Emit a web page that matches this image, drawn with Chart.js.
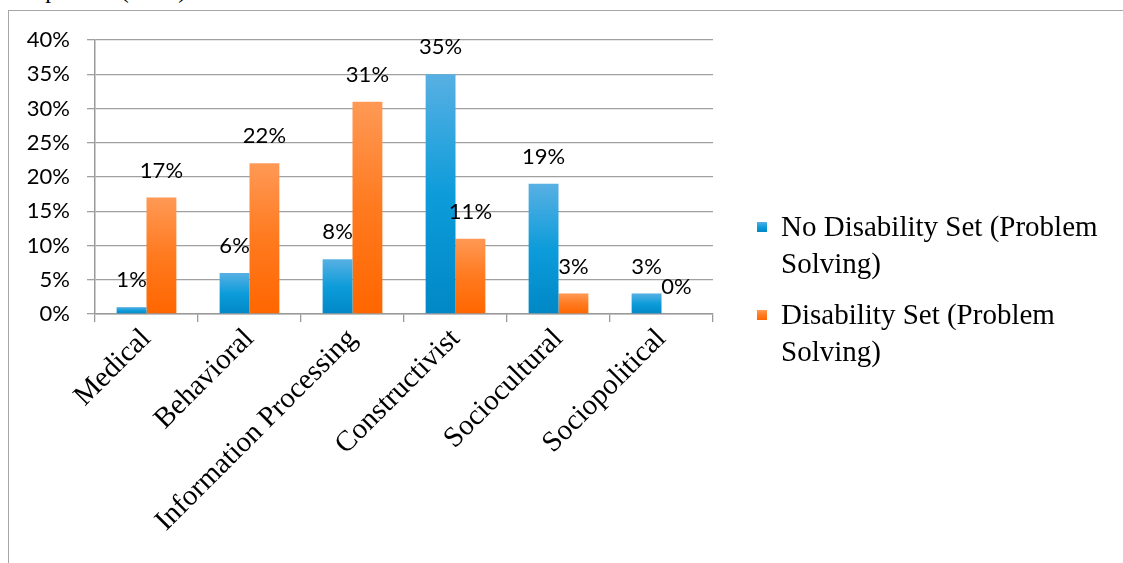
<!DOCTYPE html>
<html lang="en">
<head>
    <meta charset="UTF-8">
    <title>Perspective chart</title>
    <script src="https://cdn.jsdelivr.net/npm/chart.js"></script>
    <style>
        html, body {
            margin: 0;
            padding: 0;
            width: 1123px;
            height: 563px;
            overflow: hidden;
            background: #fff;
        }
        .caption {
            position: absolute;
            left: 4px;
            top: -23px;
            font-family: 'Liberation Serif', serif;
            font-size: 24px;
            color: #000;
            white-space: nowrap;
        }
        .frame {
            position: absolute;
            left: 8px;
            top: 10px;
            width: 1200px;
            height: 600px;
            border: 1.5px solid #a6a6a6;
        }
        #chart {
            position: absolute;
            left: 0;
            top: 0;
        }
        #legend {
            position: absolute;
            left: 757px;
            top: 208px;
            width: 360px;
            font-family: 'Liberation Serif', serif;
            font-size: 29px;
            line-height: 37px;
            color: #000;
        }
        .item {
            position: relative;
            padding-left: 24px;
            margin-bottom: 14px;
        }
        .swatch {
            position: absolute;
            left: 0;
            top: 14px;
            width: 10px;
            height: 10px;
        }
    </style>
</head>
<body>
    <div class="caption">Perspective (n=36).</div>
    <div class="frame"></div>
    <canvas id="chart" width="1123" height="563"></canvas>
    <div id="legend"></div>

    <script>
        const categories = ["Medical", "Behavioral", "Information Processing", "Constructivist", "Sociocultural", "Sociopolitical"];
        const seriesNames = ["No Disability Set (Problem Solving)", "Disability Set (Problem Solving)"];
        const noDisability = [0.01, 0.06, 0.08, 0.35, 0.19, 0.03];
        const disability = [0.17, 0.22, 0.31, 0.11, 0.03, 0.00];
        const yTicks = [0, 0.05, 0.10, 0.15, 0.20, 0.25, 0.30, 0.35, 0.40];

        // top / middle / bottom colours of each series' bar gradient
        const blueStops = ["#58b0e3", "#0d9cda", "#0087c6"];
        const orangeStops = ["#ff9955", "#ff7a1f", "#ff6600"];

        const numFont = "Lato, 'Open Sans', sans-serif";
        const serifFont = "'Liberation Serif', serif";

        function pct(v) {
            return Math.round(v * 100) + '%';
        }

        function barGradient(stops) {
            return function (ctx) {
                const chart = ctx.chart;
                if (!chart.chartArea || ctx.dataIndex === undefined) return stops[1];
                const y = chart.scales.y;
                const value = ctx.dataset.data[ctx.dataIndex];
                const top = y.getPixelForValue(value);
                const bottom = y.getPixelForValue(0);
                if (bottom - top < 1) return stops[1];
                const g = chart.ctx.createLinearGradient(0, top, 0, bottom);
                g.addColorStop(0, stops[0]);
                g.addColorStop(0.5, stops[1]);
                g.addColorStop(1, stops[2]);
                return g;
            };
        }

        // value labels sit a fixed distance above each bar, like the original
        const valueLabels = {
            id: 'valueLabels',
            afterDatasetsDraw(chart) {
                const c = chart.ctx;
                c.save();
                c.font = `22px ${numFont}`;
                c.fillStyle = '#000';
                c.textAlign = 'center';
                c.textBaseline = 'middle';
                chart.data.datasets.forEach((ds, i) => {
                    chart.getDatasetMeta(i).data.forEach((bar, j) => {
                        c.fillText(pct(ds.data[j]), bar.x, bar.y - 27);
                    });
                });
                c.restore();
            }
        };

        const chart = new Chart(document.getElementById('chart'), {
            type: 'bar',
            data: {
                labels: categories,
                datasets: [
                    { label: seriesNames[0], data: noDisability, backgroundColor: barGradient(blueStops) },
                    { label: seriesNames[1], data: disability, backgroundColor: barGradient(orangeStops) }
                ]
            },
            options: {
                responsive: false,
                animation: false,
                categoryPercentage: 0.58,
                barPercentage: 1,
                layout: { padding: { top: 40, right: 410, left: 0, bottom: 0 } },
                plugins: {
                    legend: { display: false },
                    tooltip: { enabled: false }
                },
                scales: {
                    x: {
                        offset: true,
                        grid: { drawOnChartArea: false, drawTicks: true, tickLength: 8, color: '#9a9a9a', lineWidth: 1.3 },
                        border: { color: '#9a9a9a', width: 1.5 },
                        ticks: {
                            color: '#000',
                            font: { family: serifFont, size: 29 },
                            minRotation: 45,
                            maxRotation: 45,
                            padding: 0
                        },
                        afterFit(scale) { scale.height = 249; }
                    },
                    y: {
                        min: 0,
                        max: 0.4,
                        afterBuildTicks(scale) { scale.ticks = yTicks.map(v => ({ value: v })); },
                        grid: { color: '#a0a0a0', lineWidth: 1.3, tickLength: 8 },
                        border: { color: '#9a9a9a', width: 1.5 },
                        ticks: {
                            color: '#000',
                            font: { family: numFont, size: 22 },
                            padding: 17,
                            callback: v => pct(v)
                        },
                        afterFit(scale) { scale.width = 95; }
                    }
                }
            },
            plugins: [valueLabels]
        });

        // legend as plain text beside the plot
        const legend = document.getElementById('legend');
        [blueStops, orangeStops].forEach((stops, i) => {
            const item = document.createElement('div');
            item.className = 'item';
            item.innerHTML = `<span class="swatch" style="background:linear-gradient(${stops.join(',')})"></span>${seriesNames[i]}`;
            legend.appendChild(item);
        });
    </script>
</body>
</html>
